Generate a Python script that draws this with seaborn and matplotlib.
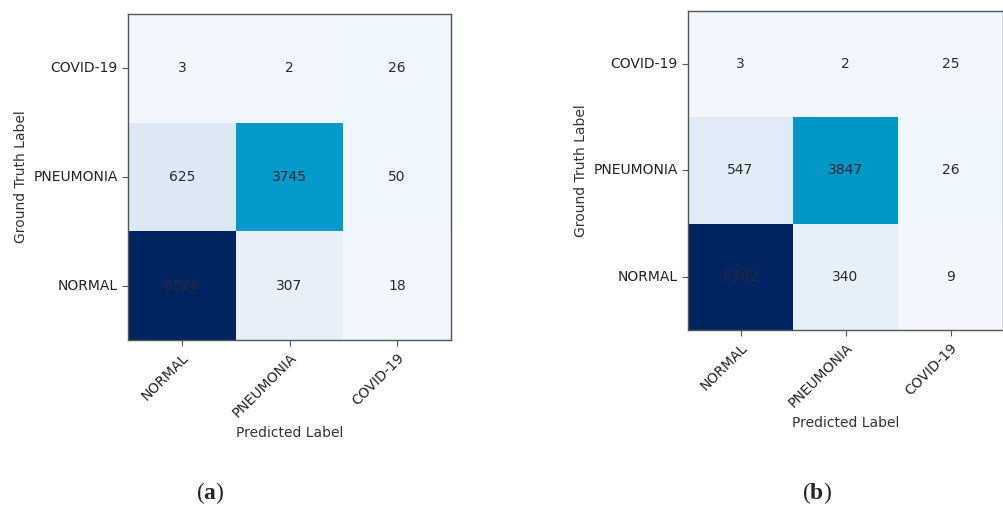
import numpy as np
import pandas as pd
import matplotlib
matplotlib.use("Agg")
import matplotlib.pyplot as plt
import seaborn as sns
from matplotlib.colors import LinearSegmentedColormap

# class labels
pred_labels = ["NORMAL", "PNEUMONIA", "COVID-19"]
true_labels = ["COVID-19", "PNEUMONIA", "NORMAL"]  # top to bottom as drawn

# confusion matrices, rows follow true_labels order
cm_a = [[3, 2, 26],
        [625, 3745, 50],
        [6526, 307, 18]]
cm_b = [[3, 2, 25],
        [547, 3847, 26],
        [6502, 340, 9]]

sns.set_style("white")
plt.rcParams["font.family"] = ["DejaVu Sans"]
plt.rcParams["mathtext.fontset"] = "custom"
plt.rcParams["mathtext.bf"] = "Liberation Serif:bold"
plt.rcParams["mathtext.rm"] = "Liberation Serif"

# light -> teal -> navy, close to the picture
cmap = LinearSegmentedColormap.from_list(
    "cm_blue",
    [(0.0, "#f1f7fd"), (0.05, "#e6f0f9"), (0.1, "#dbe8f4"),
     (0.3, "#8cc6e2"), (0.58, "#0099c9"), (1.0, "#002461")])

fig = plt.figure(figsize=(10.04, 5.09), dpi=100)
ax_a = fig.add_axes([0.1275, 0.332, 0.3217, 0.6405])
ax_b = fig.add_axes([0.6853, 0.3517, 0.3137, 0.6267])

for ax, cm in [(ax_a, cm_a), (ax_b, cm_b)]:
    df = pd.DataFrame(cm, index=true_labels, columns=pred_labels)
    sns.heatmap(df, ax=ax, cmap=cmap, vmin=0, vmax=np.max(cm), annot=True, fmt="d",
                cbar=False, annot_kws={"color": "#2a2a33", "fontsize": 10})
    for s in ax.spines.values():
        s.set_visible(True)
        s.set_color("#555555")
        s.set_linewidth(1.0)
    ax.tick_params(left=True, bottom=True, length=4, color="#555555",
                   labelsize=10, labelcolor="#222222")
    ax.set_xticklabels(pred_labels, rotation=45, ha="right", rotation_mode="anchor")
    ax.set_yticklabels(true_labels, rotation=0)
    ax.set_xlabel("Predicted Label", fontsize=10, color="#333333")
    ax.set_ylabel("Ground Truth Label", fontsize=10, color="#333333")

fig.text(0.209, 0.031, r"($\mathbf{a}$)", ha="center", va="center", fontsize=17,
         family="Liberation Serif")
fig.text(0.814, 0.031, r"($\mathbf{b}$)", ha="center", va="center", fontsize=17,
         family="Liberation Serif")

fig.savefig("out.png", dpi=100)
